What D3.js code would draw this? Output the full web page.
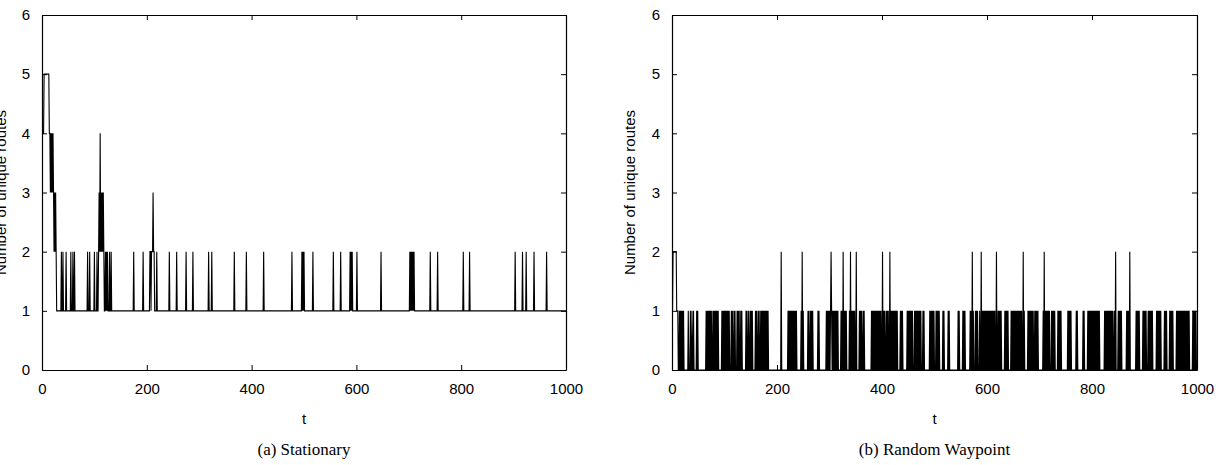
<!DOCTYPE html>
<html>
<head>
<meta charset="utf-8">
<script src="https://cdn.jsdelivr.net/npm/d3@7"></script>
<style>
  html, body { margin: 0; padding: 0; background: #fff; }
  svg { display: block; }
  .tick text { font-family: "Liberation Sans", Arial, sans-serif; font-size: 15px; fill: #000; }
  .lbl { font-family: "Liberation Sans", Arial, sans-serif; font-size: 15px; fill: #000; }
  .cap { font-family: "Liberation Serif", "Times New Roman", serif; font-size: 17px; fill: #000; }
</style>
</head>
<body>
<svg id="chart" width="1222" height="465"></svg>
<script>
// ---------------- data ----------------
const xTicks = [0, 200, 400, 600, 800, 1000];
const yTicks = [0, 1, 2, 3, 4, 5, 6];
const xLabel = "t";
const yLabel = "Number of unique routes";
const captions = ["(a) Stationary", "(b) Random Waypoint"];
const tMax = 1000;

// (a) Stationary: level changes [t, value] (value holds until next change)
const stationaryRuns = [
  [0, 4], [4, 5], [14, 4], [16, 3], [17, 4], [18, 3], [19, 4], [20, 3], [21, 4],
  [22, 3], [23, 2], [24, 3], [25, 2], [26, 3], [27, 2], [28, 1]
];
// (a) Stationary: single-sample excursions [t, value]
const stationarySpikes = [
  [37, 2], [40, 2], [46, 2], [55, 2], [59, 2], [62, 2], [87, 2], [91, 2], [100, 2], [105, 2],
  [108, 2], [109, 3], [110, 2], [111, 4], [112, 2], [113, 3], [114, 2], [115, 3], [116, 2], [117, 3], [118, 2],
  [121, 2], [123, 2], [125, 2], [129, 2], [132, 2],
  [175, 2], [193, 2],
  [206, 2], [207, 2], [209, 2], [210, 2], [211, 2], [212, 3], [213, 2], [214, 2],
  [219, 2], [243, 2], [257, 2], [275, 2], [288, 2], [318, 2], [324, 2], [367, 2], [390, 2], [423, 2],
  [477, 2], [496, 2], [498, 2], [500, 2], [517, 2], [556, 2], [570, 2], [588, 2], [590, 2], [592, 2],
  [601, 2], [647, 2], [702, 2], [704, 2], [706, 2], [708, 2], [710, 2], [741, 2], [755, 2],
  [804, 2], [816, 2], [903, 2], [917, 2], [924, 2], [939, 2], [963, 2]
];

// (b) Random Waypoint: samples held at 1 [start, end]
const waypointHold = [[0, 11]];
// (b) Random Waypoint: single samples at value 1 (0 elsewhere)
const waypointPulses = [
  14, 16, 18, 20, 22, 31, 35, 38, 41, 47, 49,
  65, 67, 69, 71, 73, 75, 78, 80, 82, 84, 86, 88,
  95, 97, 99, 101, 103, 105, 107, 109, 113, 115, 118, 120,
  124, 126, 128, 131, 133, 141, 143, 146, 149, 151, 153,
  159, 161, 164, 166, 169, 171, 173, 175, 177, 179, 181, 183,
  221, 223, 225, 227, 229, 231, 233, 235, 237, 246, 250,
  259, 261, 264, 266, 268, 278, 280,
  294, 296, 298, 300, 302, 304, 306, 308, 310, 312, 314, 316,
  322, 324, 328, 330, 332, 338, 342, 344, 346, 348, 357, 359, 361, 364, 366,
  380, 382, 384, 386, 388, 390, 392, 394, 396, 398, 403, 405,
  408, 410, 412, 417, 419, 421, 423, 425, 427, 429, 435, 437, 439,
  448, 450, 452, 454, 456, 458, 462, 464, 466, 468, 470, 472, 474, 478, 480,
  491, 493, 495, 497, 499, 503, 505, 507, 509, 516, 518, 526, 528,
  545, 547, 554, 556, 558, 568, 570, 574, 578, 580, 582,
  586, 591, 593, 595, 597, 599, 601, 603, 605, 607, 609, 611, 613, 615,
  621, 623, 625, 627, 634, 636, 638, 640,
  646, 648, 650, 652, 654, 656, 658, 660, 662, 664, 666, 671,
  678, 680, 682, 684, 686, 688, 691, 693, 695, 697,
  707, 711, 713, 715, 717, 719, 723, 725, 727, 729, 735, 737, 739, 741,
  754, 756, 758, 760, 770, 772, 783, 785,
  792, 794, 796, 798, 800, 802, 804, 806, 808, 810, 812, 814,
  824, 826, 828, 830, 832, 834, 836, 838, 840, 843, 850, 852, 854, 856,
  866, 868, 870, 884, 886, 888, 890, 897, 899, 901, 903,
  907, 909, 911, 913, 915, 923, 925, 927, 929, 931, 938, 940, 942,
  948, 950, 952, 954, 961, 963, 965, 967, 969, 971, 973, 975, 977, 979, 981, 983, 985,
  992, 994, 996, 998
];
// (b) Random Waypoint: samples at value 2 [start, end]
const waypointPeaks = [
  [2, 8], [208, 208], [248, 248], [303, 303], [326, 326], [340, 340], [351, 351],
  [401, 401], [415, 415], [572, 572], [589, 589], [618, 618], [669, 669],
  [709, 709], [845, 845], [872, 872]
];

// ---------------- build series ----------------
function fromRuns(runs, spikes) {
  const vals = [];
  let k = 0;
  for (let t = 0; t <= tMax; t++) {
    while (k + 1 < runs.length && runs[k + 1][0] <= t) k++;
    vals.push(runs[k][1]);
  }
  spikes.forEach(([t, v]) => { vals[t] = v; });
  return vals.map((v, t) => [t, v]);
}
function fromPulses(hold, pulses, peaks) {
  const vals = new Array(tMax + 1).fill(0);
  hold.forEach(([a, b]) => { for (let t = a; t <= b; t++) vals[t] = 1; });
  pulses.forEach(t => { vals[t] = 1; });
  peaks.forEach(([a, b]) => { for (let t = a; t <= b; t++) vals[t] = 2; });
  return vals.map((v, t) => [t, v]);
}

const panels = [
  { x0: 42, x1: 566, data: fromRuns(stationaryRuns, stationarySpikes), cap: captions[0], ylabX: 6 },
  { x0: 672, x1: 1197, data: fromPulses(waypointHold, waypointPulses, waypointPeaks), cap: captions[1], ylabX: 635 }
];
const yTop = 15, yBot = 370;

const svg = d3.select("#chart");

panels.forEach((p, i) => {
  const x = d3.scaleLinear().domain([0, tMax]).range([p.x0, p.x1]);
  const y = d3.scaleLinear().domain([0, 6]).range([yBot, yTop]);
  const g = svg.append("g");

  const clipId = "clip" + i;
  svg.append("clipPath").attr("id", clipId)
    .append("rect").attr("x", p.x0).attr("y", yTop).attr("width", p.x1 - p.x0).attr("height", yBot - yTop);

  g.append("path")
    .datum(p.data)
    .attr("clip-path", `url(#${clipId})`)
    .attr("fill", "none")
    .attr("stroke", "#000")
    .attr("stroke-width", 1.1)
    .attr("d", d3.line().x(d => x(d[0])).y(d => y(d[1])));

  // axes (gnuplot-style inward ticks, mirrored)
  g.append("g").attr("transform", `translate(0,${yBot})`)
    .call(d3.axisBottom(x).tickValues(xTicks).tickFormat(d3.format("d")).tickSizeInner(-5).tickSizeOuter(0).tickPadding(13));
  g.append("g").attr("transform", `translate(0,${yTop})`)
    .call(d3.axisTop(x).tickValues(xTicks).tickFormat("").tickSizeInner(-5).tickSizeOuter(0));
  g.append("g").attr("transform", `translate(${p.x0},0)`)
    .call(d3.axisLeft(y).tickValues(yTicks).tickFormat(d3.format("d")).tickSizeInner(-5).tickSizeOuter(0).tickPadding(12));
  g.append("g").attr("transform", `translate(${p.x1},0)`)
    .call(d3.axisRight(y).tickValues(yTicks).tickFormat("").tickSizeInner(-5).tickSizeOuter(0));
  g.selectAll(".domain").attr("stroke", "#000").attr("stroke-width", 1.2);
  g.selectAll(".tick line").attr("stroke", "#000");

  // labels
  g.append("text").attr("class", "lbl")
    .attr("x", (p.x0 + p.x1) / 2).attr("y", 424)
    .attr("text-anchor", "middle").text(xLabel);
  g.append("text").attr("class", "lbl")
    .attr("transform", `translate(${p.ylabX},${(yTop + yBot) / 2}) rotate(-90)`)
    .attr("text-anchor", "middle").text(yLabel);
  g.append("text").attr("class", "cap")
    .attr("x", (p.x0 + p.x1) / 2).attr("y", 455)
    .attr("text-anchor", "middle").text(p.cap);
});
</script>
</body>
</html>
